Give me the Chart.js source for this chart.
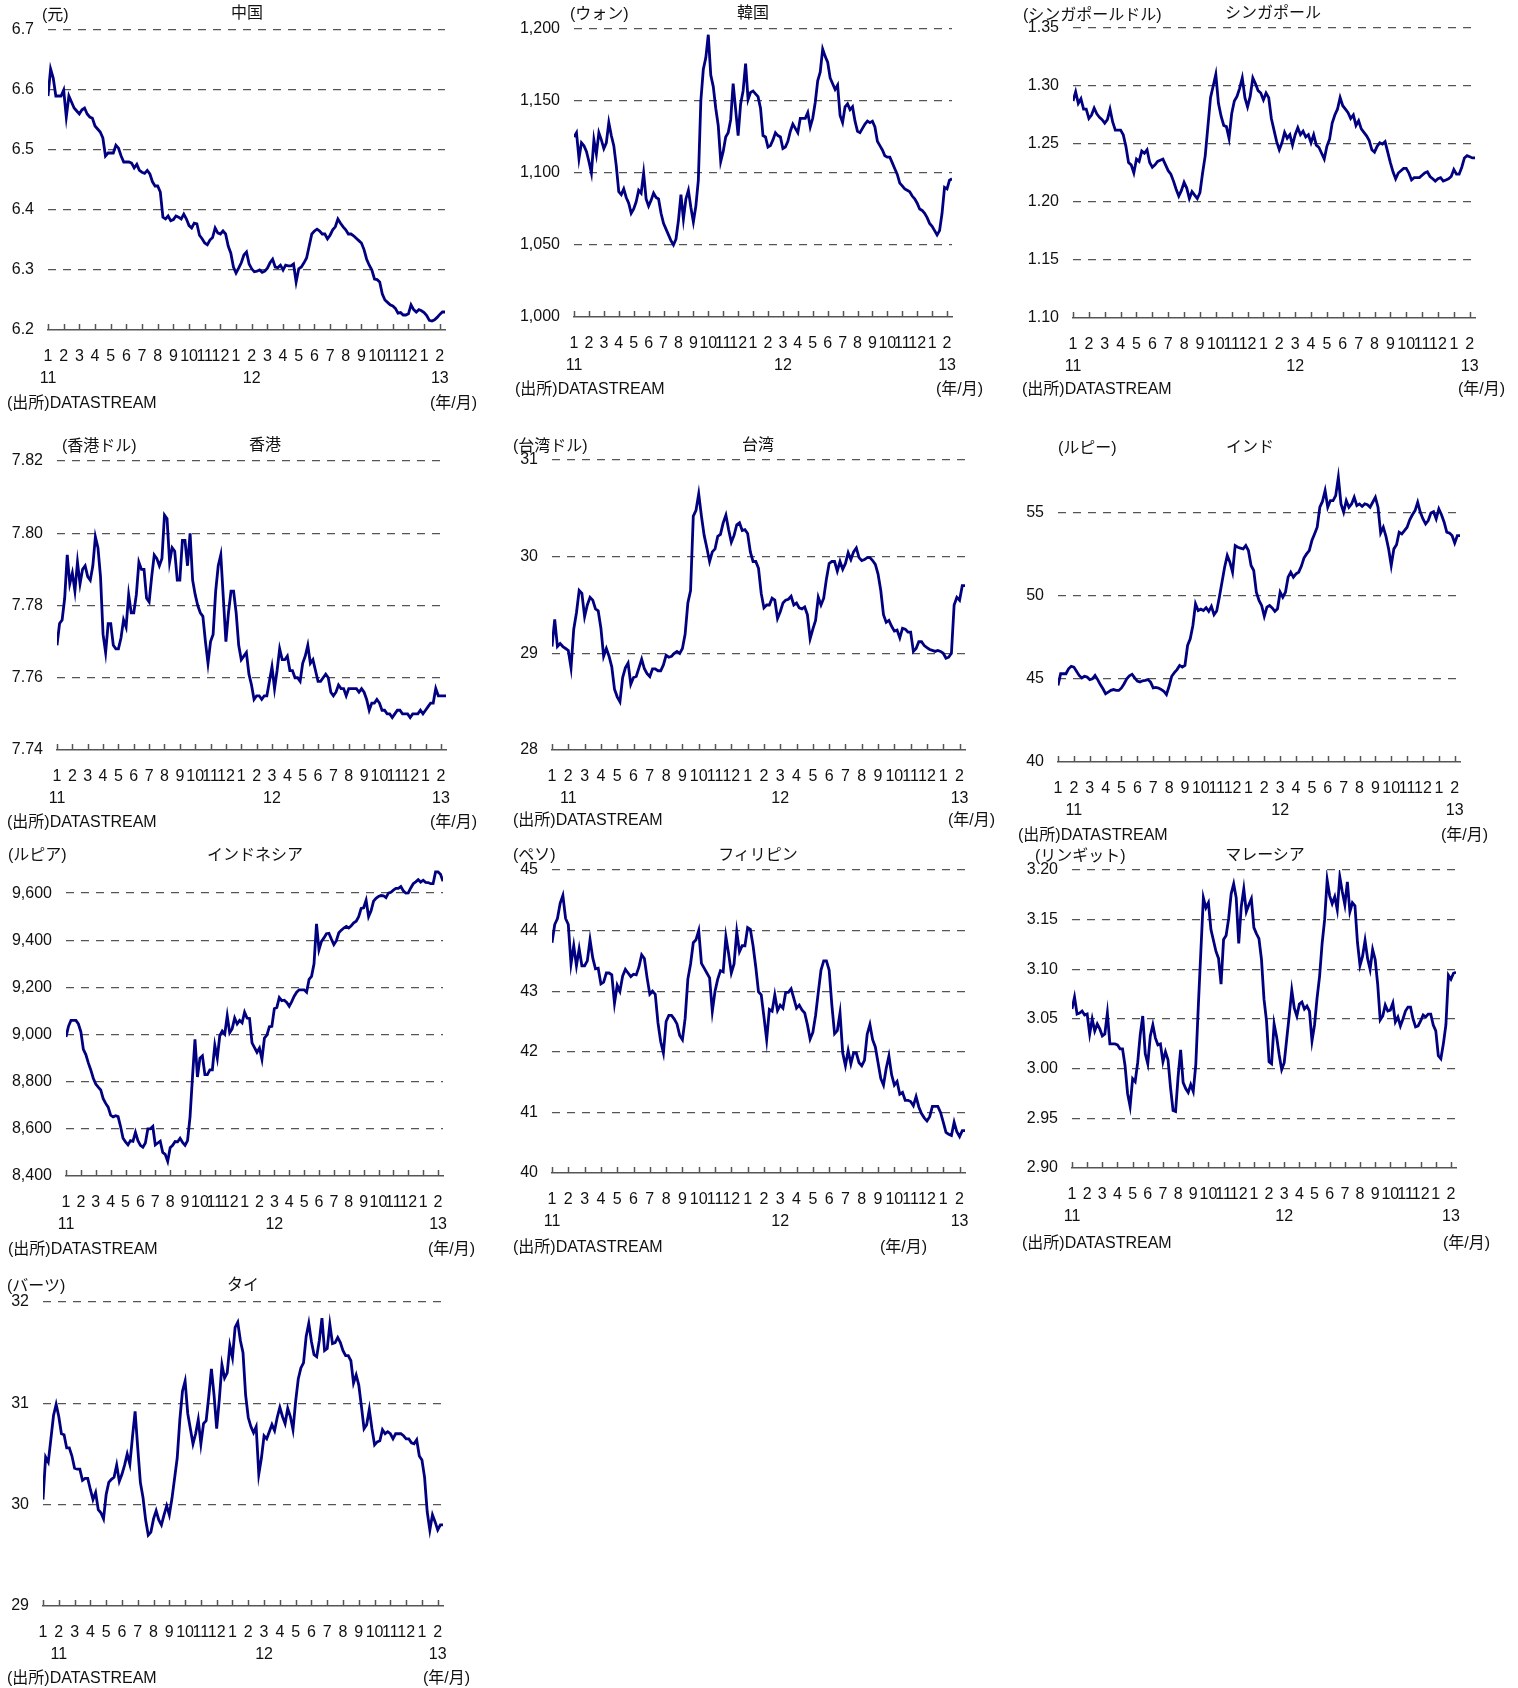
<!DOCTYPE html>
<html lang="ja">
<head>
<meta charset="utf-8">
<title>アジア通貨の対ドル相場</title>
<script src="https://cdn.jsdelivr.net/npm/chart.js@4.4.1/dist/chart.umd.min.js"></script>
<style>
  html, body { margin: 0; padding: 0; background: #fff; }
  body {
    width: 1518px; height: 1688px; position: relative; overflow: hidden;
    font-family: 'Liberation Sans', Arial, 'Noto Sans CJK JP', sans-serif; color: #111;
  }
  canvas { position: absolute; }
  .lbl { position: absolute; font-size: 16px; line-height: 20px; white-space: nowrap; transform: translateY(-50%); }
  .lbl.center { transform: translate(-50%, -50%); }
  .lbl.right { transform: translate(-100%, -50%); }
</style>
</head>
<body>
<script>
// ===== Asian currencies vs USD, Jan 2011 - Feb 2013 =====

const STEP = 1 / 6;       // six readings per month
const X_MAX = 152 / 6;    // axis runs to mid Feb 2013

const monthTicks = ['1', '2', '3', '4', '5', '6', '7', '8', '9', '10', '11', '12',
                    '1', '2', '3', '4', '5', '6', '7', '8', '9', '10', '11', '12', '1', '2'];
const yearLabels = ['11', '12', '13'];

// --- Series (local currency per USD) ---
const cnyRate = [
  6.59, 6.635, 6.62, 6.59, 6.59, 6.59, 6.60, 6.555, 6.59, 6.58,
  6.57, 6.565, 6.56, 6.567, 6.57, 6.56, 6.555, 6.553, 6.54, 6.535,
  6.53, 6.52, 6.49, 6.495, 6.495, 6.495, 6.508, 6.503, 6.49, 6.48,
  6.48, 6.48, 6.478, 6.47, 6.476, 6.466, 6.463, 6.461, 6.466, 6.46,
  6.447, 6.44, 6.44, 6.43, 6.388, 6.385, 6.39, 6.382, 6.384, 6.39,
  6.388, 6.385, 6.393, 6.385, 6.374, 6.37, 6.378, 6.377, 6.358, 6.352,
  6.345, 6.342, 6.35, 6.354, 6.37, 6.362, 6.36, 6.365, 6.36, 6.34,
  6.328, 6.305, 6.295, 6.303, 6.312, 6.325, 6.33, 6.31, 6.302, 6.297,
  6.298, 6.30, 6.296, 6.298, 6.303, 6.312, 6.318, 6.305, 6.304, 6.308,
  6.30, 6.308, 6.307, 6.307, 6.31, 6.28, 6.302, 6.305, 6.312, 6.32,
  6.34, 6.36, 6.365, 6.368, 6.365, 6.36, 6.36, 6.352, 6.358, 6.367,
  6.372, 6.385, 6.378, 6.372, 6.367, 6.36, 6.36, 6.357, 6.353, 6.349,
  6.345, 6.334, 6.318, 6.308, 6.30, 6.285, 6.284, 6.28, 6.26, 6.25,
  6.246, 6.242, 6.24, 6.236, 6.228, 6.229, 6.225, 6.225, 6.227, 6.242,
  6.234, 6.23, 6.234, 6.232, 6.229, 6.224, 6.216, 6.215, 6.217, 6.221,
  6.226, 6.23, 6.23];

const krwRate = [
  1125, 1128, 1110, 1121, 1119, 1115, 1108, 1100, 1123, 1113,
  1128, 1123, 1117, 1121, 1135, 1126, 1119, 1105, 1087, 1085,
  1089, 1083, 1079, 1072, 1075, 1080, 1088, 1086, 1100, 1082,
  1077, 1081, 1086, 1083, 1082, 1072, 1065, 1061, 1057, 1053,
  1050, 1054, 1067, 1085, 1068, 1082, 1088, 1076, 1066, 1077,
  1095, 1150, 1172, 1180, 1196, 1168, 1160, 1145, 1133, 1108,
  1115, 1125, 1128, 1137, 1162, 1144, 1126, 1148, 1157, 1176,
  1151, 1156, 1157, 1155, 1153, 1145, 1126, 1125, 1118, 1119,
  1123, 1128, 1126, 1125, 1117, 1118, 1122, 1129, 1134, 1131,
  1128, 1138, 1138, 1138, 1142, 1132, 1138, 1149, 1164, 1170,
  1186, 1181, 1177, 1166, 1162, 1158, 1161, 1140, 1135, 1146,
  1148, 1144, 1146, 1136, 1129, 1128, 1131, 1134, 1136, 1135,
  1136, 1132, 1122, 1119, 1116, 1112, 1111, 1111, 1107, 1103,
  1099, 1093, 1091, 1089, 1088, 1087, 1084, 1082, 1079, 1075,
  1074, 1072, 1069, 1065, 1063, 1060, 1057, 1060, 1072, 1090,
  1089, 1095, 1096];

const sgdRate = [
  1.287, 1.295, 1.285, 1.289, 1.28, 1.28, 1.272, 1.275, 1.281, 1.276,
  1.273, 1.271, 1.268, 1.271, 1.28, 1.269, 1.262, 1.262, 1.262, 1.258,
  1.248, 1.234, 1.232, 1.225, 1.237, 1.235, 1.244, 1.242, 1.245, 1.234,
  1.23, 1.232, 1.235, 1.236, 1.237, 1.232, 1.227, 1.224, 1.218, 1.211,
  1.205, 1.21, 1.217, 1.212, 1.203, 1.209, 1.206, 1.203, 1.208, 1.225,
  1.24, 1.265, 1.29, 1.30, 1.31, 1.285, 1.274, 1.266, 1.265, 1.255,
  1.276, 1.287, 1.291, 1.298, 1.307, 1.29, 1.282, 1.291, 1.307, 1.302,
  1.296, 1.294, 1.288, 1.294, 1.29, 1.272, 1.262, 1.252, 1.245, 1.251,
  1.26, 1.255, 1.258, 1.249, 1.258, 1.264, 1.258, 1.261, 1.256, 1.258,
  1.251, 1.258, 1.249, 1.247, 1.242, 1.237, 1.248, 1.254, 1.268, 1.275,
  1.28, 1.29, 1.283, 1.28, 1.277, 1.272, 1.275, 1.266, 1.27, 1.263,
  1.26, 1.257, 1.253, 1.245, 1.243, 1.248, 1.251, 1.25, 1.252, 1.243,
  1.234, 1.226, 1.22, 1.225, 1.227, 1.229, 1.229, 1.225, 1.219, 1.221,
  1.221, 1.221, 1.223, 1.225, 1.226, 1.222, 1.22, 1.218, 1.22, 1.221,
  1.218, 1.219, 1.22, 1.222, 1.228, 1.224, 1.224, 1.23, 1.238, 1.24,
  1.239, 1.238, 1.238];

const hkdRate = [
  7.769, 7.775, 7.776, 7.782, 7.794, 7.786, 7.789, 7.784, 7.792, 7.786,
  7.79, 7.791, 7.788, 7.787, 7.791, 7.799, 7.796, 7.788, 7.772, 7.767,
  7.775, 7.775, 7.769, 7.768, 7.768, 7.771, 7.776, 7.774, 7.783, 7.778,
  7.778, 7.783, 7.792, 7.79, 7.79, 7.782, 7.781, 7.788, 7.794, 7.793,
  7.791, 7.793, 7.805, 7.804, 7.792, 7.796, 7.795, 7.787, 7.787, 7.798,
  7.798, 7.791, 7.80, 7.787, 7.783, 7.78, 7.778, 7.777, 7.77, 7.764,
  7.77, 7.772, 7.784, 7.791, 7.794, 7.782, 7.77, 7.778, 7.784, 7.784,
  7.778, 7.769, 7.765, 7.766, 7.767, 7.761, 7.758, 7.754, 7.755, 7.755,
  7.754, 7.755, 7.755, 7.759, 7.763, 7.757, 7.762, 7.768, 7.765, 7.765,
  7.766, 7.762, 7.762, 7.76, 7.76, 7.759, 7.764, 7.766, 7.769, 7.764,
  7.765, 7.762, 7.759, 7.759, 7.76, 7.761, 7.76, 7.756, 7.755, 7.756,
  7.758, 7.757, 7.757, 7.755, 7.757, 7.757, 7.757, 7.757, 7.756, 7.757,
  7.756, 7.754, 7.751, 7.753, 7.753, 7.754, 7.753, 7.751, 7.751, 7.75,
  7.75, 7.749, 7.75, 7.751, 7.751, 7.75, 7.75, 7.75, 7.749, 7.75,
  7.75, 7.75, 7.751, 7.75, 7.751, 7.752, 7.753, 7.753, 7.757, 7.755,
  7.755, 7.755, 7.755];

const twdRate = [
  29.07, 29.35, 29.07, 29.1, 29.07, 29.05, 29.03, 28.85, 29.25, 29.42,
  29.65, 29.62, 29.38, 29.5, 29.58, 29.55, 29.46, 29.44, 29.26, 28.97,
  29.05, 28.97, 28.86, 28.63, 28.55, 28.5, 28.75, 28.85, 28.9, 28.68,
  28.75, 28.76, 28.85, 28.94, 28.84, 28.79, 28.76, 28.84, 28.84, 28.82,
  28.82, 28.88, 28.98, 28.96, 28.97, 29.0, 29.02, 29.0, 29.05, 29.2,
  29.52, 29.65, 30.42, 30.48, 30.65, 30.42, 30.22, 30.09, 29.95, 30.05,
  30.08, 30.21, 30.23, 30.35, 30.43, 30.28, 30.15, 30.22, 30.33, 30.35,
  30.27, 30.28, 30.24, 30.05, 29.95, 29.95, 29.88, 29.62, 29.47, 29.5,
  29.5, 29.57, 29.55, 29.36, 29.43, 29.52, 29.55, 29.56, 29.59, 29.5,
  29.52, 29.47, 29.46, 29.48, 29.4, 29.15, 29.25, 29.34, 29.58, 29.5,
  29.57, 29.77, 29.93, 29.95, 29.95, 29.85, 29.95, 29.87, 29.93, 30.04,
  29.97, 30.05, 30.09, 29.99, 29.96, 29.97, 29.99, 29.99, 29.96, 29.92,
  29.82, 29.65, 29.4, 29.32, 29.34, 29.28, 29.23, 29.24, 29.16, 29.26,
  29.25, 29.22, 29.22, 29.02, 29.05, 29.12, 29.12, 29.08, 29.06, 29.04,
  29.03, 29.02, 29.03, 29.02, 29.0, 28.95, 28.96, 29.0, 29.5, 29.58,
  29.55, 29.7, 29.7];

const inrRate = [
  44.6, 45.3, 45.3, 45.3, 45.6, 45.75, 45.7, 45.45, 45.2, 45.05,
  45.15, 45.1, 44.95, 45.0, 45.2, 44.95, 44.65, 44.4, 44.1, 44.2,
  44.3, 44.35, 44.3, 44.3, 44.45, 44.7, 45.0, 45.18, 45.27, 45.05,
  44.86, 44.8, 44.88, 44.9, 44.95, 44.8, 44.45, 44.48, 44.44, 44.36,
  44.25, 44.05, 44.55, 45.15, 45.37, 45.55, 45.8, 45.7, 45.8, 47.0,
  47.4, 48.2, 49.5, 49.1, 49.18, 49.1, 49.27, 49.05, 49.35, 48.85,
  49.07, 49.9, 50.8, 51.7, 52.4, 52.0, 51.4, 53.0, 52.9, 52.85,
  52.8, 53.0, 52.7, 51.8, 51.5, 50.2, 49.7, 49.4, 48.75, 49.3,
  49.4, 49.25, 49.05, 49.2, 50.2, 49.9, 50.2, 51.1, 51.4, 51.1,
  51.3, 51.4, 51.75, 52.25, 52.5, 52.7, 53.3, 53.7, 54.1, 55.3,
  55.65, 56.3, 55.3, 55.7, 55.7, 56.0, 57.1, 55.5, 55.0, 55.7,
  55.3, 55.5, 55.9, 55.4, 55.5, 55.35, 55.5, 55.45, 55.3, 55.6,
  55.9, 55.3, 53.75, 54.1, 53.55, 52.8, 51.8, 52.8, 53.05, 53.8,
  53.7, 53.9, 54.1, 54.55, 54.85, 55.1, 55.6, 55.0, 54.6, 54.3,
  54.5, 54.95, 55.03, 54.6, 55.2, 54.85, 54.4, 53.8, 53.75, 53.6,
  53.15, 53.6, 53.6];

const idrRate = [
  8990, 9035, 9060, 9060, 9060, 9045, 9012, 8937, 8915, 8880,
  8850, 8815, 8790, 8777, 8765, 8728, 8708, 8692, 8658, 8651,
  8656, 8652, 8610, 8560, 8545, 8532, 8550, 8547, 8585, 8550,
  8530, 8522, 8540, 8600, 8600, 8610, 8532, 8540, 8548, 8500,
  8492, 8462, 8520, 8530, 8546, 8545, 8560, 8542, 8530, 8550,
  8650, 8820, 8980, 8820, 8900, 8910, 8830, 8830, 8850, 8850,
  8955, 8900, 8995, 9015, 9002, 9080, 9008, 9025, 9070, 9045,
  9060, 9050, 9095, 9070, 9068, 8965, 8945, 8925, 8943, 8895,
  8985, 8998, 9033, 9035, 9110, 9115, 9157, 9144, 9146, 9136,
  9120, 9140, 9163, 9180, 9190, 9190, 9190, 9180, 9234, 9247,
  9300, 9470, 9360, 9395, 9410, 9428, 9430, 9405, 9382, 9398,
  9432, 9443, 9452, 9459, 9452, 9462, 9474, 9481, 9500, 9535,
  9538, 9570, 9500, 9525, 9566, 9578, 9586, 9590, 9589, 9581,
  9600, 9604, 9613, 9620, 9620, 9628, 9610, 9600, 9601, 9622,
  9640, 9648, 9657, 9647, 9655, 9646, 9645, 9640, 9640, 9690,
  9690, 9680, 9650];

const phpRate = [
  43.8, 44.1, 44.2, 44.45, 44.58, 44.2, 44.1, 43.45, 43.75, 43.42,
  43.7, 43.42, 43.42, 43.5, 43.85, 43.55, 43.37, 43.38, 43.12, 43.15,
  43.3, 43.3, 43.27, 42.8, 43.1, 43.0, 43.25, 43.36, 43.3, 43.24,
  43.28, 43.27, 43.4, 43.6, 43.54, 43.22, 42.95, 43.0, 42.95, 42.48,
  42.17, 41.98, 42.5, 42.6, 42.6, 42.54, 42.46, 42.27, 42.2, 42.55,
  43.2, 43.45, 43.8, 43.85, 44.0, 43.46, 43.38, 43.3, 43.22, 42.67,
  43.0, 43.2, 43.34, 43.32, 43.9, 43.62, 43.3, 43.45, 43.98, 43.65,
  43.75, 43.75, 44.05, 44.02, 43.75, 43.4, 42.99, 42.94, 42.58, 42.2,
  42.7, 42.67, 42.94, 42.68, 42.77, 42.72, 42.98, 42.98, 43.04, 42.88,
  42.72, 42.77, 42.69, 42.64, 42.45, 42.21, 42.32, 42.6, 42.98, 43.35,
  43.5, 43.5, 43.35, 42.77, 42.3, 42.35, 42.64, 41.98, 41.77, 42.02,
  41.8, 41.98, 41.98, 41.82, 41.77, 41.86, 42.29, 42.45, 42.2, 42.08,
  41.82, 41.56, 41.45, 41.73, 41.93, 41.62, 41.45, 41.51, 41.3, 41.33,
  41.2, 41.2, 41.18, 41.11, 41.26, 41.09, 40.98, 40.91, 40.86, 40.93,
  41.1, 41.1, 41.1, 41.0, 40.84, 40.67, 40.64, 40.62, 40.84, 40.68,
  40.6, 40.7, 40.7];

const myrRate = [
  3.06, 3.072, 3.055, 3.056, 3.058, 3.054, 3.055, 3.035, 3.05, 3.038,
  3.045, 3.04, 3.033, 3.035, 3.056, 3.025, 3.025, 3.025, 3.024, 3.02,
  3.02, 3.003, 2.975, 2.962, 2.99, 2.987, 3.006, 3.034, 3.053, 3.015,
  3.005, 3.033, 3.044, 3.031, 3.024, 3.025, 3.007, 3.017, 3.009, 2.981,
  2.958, 2.957, 2.992, 3.019, 2.986, 2.98, 2.976, 2.984, 2.977, 3.004,
  3.063, 3.118, 3.172, 3.162, 3.167, 3.14, 3.129, 3.118, 3.111, 3.085,
  3.13, 3.134, 3.151, 3.176, 3.186, 3.172, 3.126, 3.163, 3.181, 3.158,
  3.165, 3.171, 3.142, 3.136, 3.131, 3.11, 3.07, 3.048, 3.007, 3.005,
  3.045, 3.032, 3.014, 2.999, 3.006, 3.03, 3.054, 3.079, 3.061, 3.053,
  3.065, 3.067, 3.06, 3.063, 3.058, 3.028, 3.044, 3.071, 3.093, 3.126,
  3.15, 3.19, 3.174, 3.166, 3.173, 3.16, 3.193, 3.178, 3.165, 3.188,
  3.158, 3.167, 3.164, 3.127, 3.104, 3.113, 3.129, 3.111, 3.10, 3.12,
  3.11, 3.085, 3.049, 3.053, 3.064, 3.058, 3.059, 3.066, 3.047, 3.052,
  3.043, 3.05, 3.058, 3.062, 3.062, 3.05, 3.042, 3.043, 3.048, 3.054,
  3.052, 3.055, 3.055, 3.044, 3.038, 3.013, 3.01, 3.025, 3.044, 3.094,
  3.09, 3.096, 3.097];

const thbRate = [
  30.05, 30.47, 30.42, 30.65, 30.88, 30.99, 30.87, 30.7, 30.69, 30.56,
  30.56, 30.48, 30.36, 30.35, 30.35, 30.24, 30.26, 30.26, 30.15, 30.05,
  30.12, 29.95, 29.92, 29.86, 30.1, 30.22, 30.25, 30.27, 30.39, 30.23,
  30.3, 30.39, 30.5, 30.4, 30.67, 30.92, 30.56, 30.22, 30.07, 29.85,
  29.7, 29.73, 29.86, 29.94, 29.85, 29.8, 29.9, 29.99, 29.9, 30.06,
  30.26, 30.46, 30.84, 31.12, 31.22, 30.9, 30.75, 30.6, 30.7, 30.84,
  30.6, 30.8, 30.83, 31.07, 31.34, 31.08, 30.75, 31.04, 31.38, 31.25,
  31.3, 31.57, 31.45, 31.75, 31.8, 31.62, 31.5, 31.08, 30.86, 30.77,
  30.71, 30.77, 30.3, 30.46, 30.68, 30.65, 30.72, 30.79, 30.73, 30.86,
  30.96, 30.87, 30.8, 30.95, 30.87, 30.74, 31.02, 31.24, 31.35, 31.4,
  31.66, 31.79, 31.61, 31.48, 31.46, 31.62, 31.84, 31.52, 31.54, 31.78,
  31.59, 31.6, 31.65, 31.6, 31.52, 31.47, 31.47, 31.42, 31.2, 31.28,
  31.18, 30.97, 30.75, 30.79, 30.94, 30.75, 30.59, 30.62, 30.63, 30.74,
  30.7, 30.72, 30.7, 30.65, 30.7, 30.7, 30.7, 30.68, 30.65, 30.65,
  30.61, 30.6, 30.64, 30.48, 30.44, 30.27, 29.93, 29.75, 29.9, 29.83,
  29.75, 29.8, 29.8];

// --- Formatters ---
const fix = d => v => v.toFixed(d);
const comma = v => v.toLocaleString('en-US');

// --- Panel layout (plot box: left, top, right, bottom) ---
const panels = [
  { series: cnyRate, title: '中国', unit: '(元)', min: 6.2, max: 6.7, step: 0.1, fmt: fix(1),
    plot: [48, 30, 445, 330], titleAt: [247, 13], unitAt: [42, 15], srcAt: [7, 403], ymAt: [477, 403], yearAt: [0, 13, 25] },
  { series: krwRate, title: '韓国', unit: '(ウォン)', min: 1000, max: 1200, step: 50, fmt: comma,
    plot: [574, 29, 952, 317], titleAt: [753, 13], unitAt: [570, 14], srcAt: [515, 389], ymAt: [983, 389], yearAt: [0, 14, 25] },
  { series: sgdRate, title: 'シンガポール', unit: '(シンガポールドル)', min: 1.1, max: 1.35, step: 0.05, fmt: fix(2),
    plot: [1073, 28, 1475, 318], titleAt: [1273, 13], unitAt: [1023, 15], srcAt: [1022, 389], ymAt: [1505, 389], yearAt: [0, 14, 25] },
  { series: hkdRate, title: '香港', unit: '(香港ドル)', min: 7.74, max: 7.82, step: 0.02, fmt: fix(2),
    plot: [57, 461, 446, 750], titleAt: [265, 445], unitAt: [62, 446], srcAt: [7, 822], ymAt: [477, 822], yearAt: [0, 14, 25] },
  { series: twdRate, title: '台湾', unit: '(台湾ドル)', min: 28, max: 31, step: 1, fmt: fix(0),
    plot: [552, 460, 965, 750], titleAt: [758, 445], unitAt: [513, 446], srcAt: [513, 820], ymAt: [995, 820], yearAt: [1, 14, 25] },
  { series: inrRate, title: 'インド', unit: '(ルピー)', min: 40, max: 60, step: 5, hideTop: true, fmt: fix(0),
    plot: [1058, 429, 1460, 762], titleAt: [1250, 447], unitAt: [1058, 448], srcAt: [1018, 835], ymAt: [1488, 835], yearAt: [1, 14, 25] },
  { series: idrRate, title: 'インドネシア', unit: '(ルピア)', min: 8400, max: 9800, step: 200, hideTop: true, fmt: comma,
    plot: [66, 846, 443, 1176], titleAt: [255, 855], unitAt: [8, 855], srcAt: [8, 1249], ymAt: [475, 1249], yearAt: [0, 14, 25] },
  { series: phpRate, title: 'フィリピン', unit: '(ペソ)', min: 40, max: 45, step: 1, fmt: fix(0),
    plot: [552, 870, 965, 1173], titleAt: [758, 855], unitAt: [513, 855], srcAt: [513, 1247], ymAt: [927, 1247], yearAt: [0, 14, 25] },
  { series: myrRate, title: 'マレーシア', unit: '(リンギット)', min: 2.9, max: 3.2, step: 0.05, fmt: fix(2),
    plot: [1072, 870, 1456, 1168], titleAt: [1265, 855], unitAt: [1035, 856], srcAt: [1022, 1243], ymAt: [1490, 1243], yearAt: [0, 14, 25] },
  { series: thbRate, title: 'タイ', unit: '(バーツ)', min: 29, max: 32, step: 1, fmt: fix(0),
    plot: [43, 1302, 443, 1606], titleAt: [243, 1285], unitAt: [7, 1286], srcAt: [7, 1678], ymAt: [470, 1678], yearAt: [1, 14, 25] }
];

const FONT = "'Liberation Sans', Arial, 'Noto Sans CJK JP', sans-serif";
const YW = 70, PT = 34, PR = 34, XH = 70;   // room around plot box inside each canvas
Chart.defaults.font.family = FONT;
Chart.defaults.color = '#111';

// month tick marks stand up from the axis line
const monthTickMarks = {
  id: 'monthTickMarks',
  afterDraw(chart) {
    const { ctx, chartArea, scales: { x } } = chart;
    ctx.save();
    ctx.strokeStyle = '#555';
    ctx.lineWidth = 1.5;
    x.ticks.forEach(t => {
      if (!Number.isInteger(t.value)) return;
      const px = Math.round(x.getPixelForValue(t.value)) + 0.5;
      ctx.beginPath();
      ctx.moveTo(px, chartArea.bottom);
      ctx.lineTo(px, chartArea.bottom - 6);
      ctx.stroke();
    });
    ctx.restore();
  }
};

function addLabel(text, pos, cls) {
  const el = document.createElement('div');
  el.className = 'lbl' + (cls ? ' ' + cls : '');
  el.textContent = text;
  el.style.left = pos[0] + 'px';
  el.style.top = pos[1] + 'px';
  document.body.appendChild(el);
}

function drawPanel(p) {
  const [l, t, r, b] = p.plot;
  const w = r - l + YW + PR, h = b - t + PT + XH;
  const cv = document.createElement('canvas');
  cv.width = w; cv.height = h;
  cv.style.left = (l - YW) + 'px';
  cv.style.top = (t - PT) + 'px';
  cv.style.width = w + 'px';
  cv.style.height = h + 'px';
  document.body.appendChild(cv);

  const eps = p.step / 100;
  const hidden = v => Math.abs(v - p.min) < eps || (p.hideTop && Math.abs(v - p.max) < eps);

  const chart = new Chart(cv, {
    type: 'line',
    data: {
      datasets: [{
        data: p.series.map((v, i) => ({ x: i * STEP, y: v })),
        borderColor: '#000080',
        borderWidth: 2.8,
        pointRadius: 0,
        tension: 0,
        fill: false
      }]
    },
    options: {
      responsive: false,
      maintainAspectRatio: false,
      animation: false,
      events: [],
      layout: { padding: { left: 0, top: PT, right: PR, bottom: 0 } },
      plugins: { legend: { display: false }, tooltip: { enabled: false } },
      scales: {
        x: {
          type: 'linear',
          min: 0,
          max: X_MAX,
          afterFit: s => { s.height = XH; },
          grid: { display: false, drawTicks: false },
          border: { display: true, color: '#555', width: 1.6 },
          ticks: {
            stepSize: 1,
            includeBounds: false,
            autoSkip: false,
            maxRotation: 0,
            minRotation: 0,
            padding: 16,
            color: '#111',
            font: { size: 16, lineHeight: 1.35 },
            callback: v => {
              if (!Number.isInteger(v)) return '';
              const yi = p.yearAt.indexOf(v);
              return [monthTicks[v], yi >= 0 ? yearLabels[yi] : ''];
            }
          }
        },
        y: {
          min: p.min,
          max: p.max,
          afterFit: s => { s.width = YW; },
          grid: {
            drawTicks: false,
            lineWidth: 1.3,
            color: c => hidden(c.tick.value) ? 'rgba(0,0,0,0)' : '#555'
          },
          border: { display: false, dash: [8, 7] },
          ticks: {
            stepSize: p.step,
            padding: 14,
            color: '#111',
            font: { size: 16 },
            callback: v => (p.hideTop && Math.abs(v - p.max) < eps) ? '' : p.fmt(v)
          }
        }
      }
    },
    plugins: [monthTickMarks]
  });

  // line the plot box up with its place on the page
  const ca = chart.chartArea;
  cv.style.left = (l - ca.left) + 'px';
  cv.style.top = (t - ca.top) + 'px';

  addLabel(p.title, p.titleAt, 'center');
  addLabel(p.unit, p.unitAt);
  addLabel('(出所)DATASTREAM', p.srcAt);
  addLabel('(年/月)', p.ymAt, 'right');
}

panels.forEach(drawPanel);
</script>
</body>
</html>
